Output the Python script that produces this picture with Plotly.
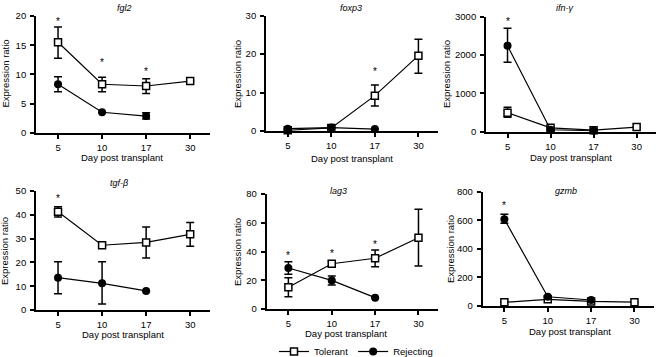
import plotly.graph_objects as go

W, H = 658, 357

days = ["5", "10", "17", "30"]

genes = ["fgl2", "foxp3", "ifn-γ", "tgf-β", "lag3", "gzmb"]

# Tolerant series (mean, upper error, lower error)
tol = {
    "fgl2":  [15.5, 8.3, 8.0, 8.85],
    "foxp3": [0.2, 0.8, 9.2, 19.6],
    "ifn-γ": [496, 100, 40, 120],
    "tgf-β": [41.3, 27.2, 28.4, 31.8],
    "lag3":  [15.1, 31.5, 35.3, 49.6],
    "gzmb":  [24, 45, 30, 25],
}
tol_hi = {
    "fgl2":  [2.6, 1.2, 1.25, 0],
    "foxp3": [0, 0, 2.8, 4.3],
    "ifn-γ": [140, 0, 0, 0],
    "tgf-β": [2.1, 0.8, 6.5, 5.0],
    "lag3":  [6.7, 2.0, 5.7, 19.8],
    "gzmb":  [0, 0, 0, 0],
}
tol_lo = {
    "fgl2":  [2.75, 1.3, 1.3, 0],
    "foxp3": [0, 0, 2.7, 4.6],
    "ifn-γ": [121, 0, 0, 0],
    "tgf-β": [2.2, 0.8, 6.6, 5.0],
    "lag3":  [6.5, 2.0, 5.9, 19.7],
    "gzmb":  [0, 0, 0, 0],
}

# Rejecting series (only days 5, 10, 17)
rej = {
    "fgl2":  [8.3, 3.5, 2.85],
    "foxp3": [0.6, 0.9, 0.5],
    "ifn-γ": [2244, 50, 25],
    "tgf-β": [13.6, 11.2, 8.0],
    "lag3":  [28.5, 19.9, 7.9],
    "gzmb":  [608, 63, 40],
}
rej_hi = {
    "fgl2":  [1.3, 0, 0.55],
    "foxp3": [0, 0, 0],
    "ifn-γ": [453, 0, 0],
    "tgf-β": [6.7, 9.1, 0],
    "lag3":  [4.4, 3.1, 0],
    "gzmb":  [35, 0, 0],
}
rej_lo = {
    "fgl2":  [1.3, 0, 0.5],
    "foxp3": [0, 0, 0],
    "ifn-γ": [434, 0, 0],
    "tgf-β": [6.75, 8.7, 0],
    "lag3":  [4.4, 3.2, 0],
    "gzmb":  [28, 0, 0],
}

y_max = {"fgl2": 20, "foxp3": 30, "ifn-γ": 3000, "tgf-β": 50, "lag3": 80, "gzmb": 800}
y_dtick = {"fgl2": 5, "foxp3": 10, "ifn-γ": 1000, "tgf-β": 10, "lag3": 20, "gzmb": 200}

# significance stars: (day index, height in data units)
stars = {
    "fgl2": [(0, 19.4), (1, 12.3), (2, 10.8)],
    "foxp3": [(2, 15.9)],
    "ifn-γ": [(0, 2940)],
    "tgf-β": [(0, 47.9)],
    "lag3": [(0, 38.7), (1, 40.3), (2, 46.4)],
    "gzmb": [(0, 720)],
}

# panel boxes in pixels: left, right, top, bottom
boxes = {
    "fgl2":  (36, 210, 16, 132.7),
    "foxp3": (266, 438, 15.7, 131),
    "ifn-γ": (486, 656, 16.7, 131.7),
    "tgf-β": (36, 210, 191, 310),
    "lag3":  (266.7, 438, 194, 309),
    "gzmb":  (482.7, 654, 192, 305.7),
}
# panel title positions (px)
title_pos = {
    "fgl2": (124, 8), "foxp3": (351, 7.5), "ifn-γ": (565, 7.5),
    "tgf-β": (119, 183.5), "lag3": (338.5, 190.7), "gzmb": (565.5, 190.7),
}
xtitle_pos = {
    "fgl2": (122, 157.5), "foxp3": (352, 158), "ifn-γ": (571, 157.5),
    "tgf-β": (123, 334.5), "lag3": (346, 333.5), "gzmb": (570, 331.5),
}
ytitle_pos = {
    "fgl2": (4.5, 74), "foxp3": (237, 74), "ifn-γ": (446, 74),
    "tgf-β": (5, 251), "lag3": (237, 252), "gzmb": (450, 249),
}

FONT = "Liberation Sans, Arial, Helvetica, sans-serif"
FS = 9.5

fig = go.Figure()
annotations = []

xidx = list(range(len(days)))

for i, g in enumerate(genes):
    n = i + 1
    xa = "x" if n == 1 else f"x{n}"
    ya = "y" if n == 1 else f"y{n}"
    l, r, t, b = boxes[g]
    fig.add_trace(go.Scatter(
        x=xidx, y=tol[g], xaxis=xa, yaxis=ya, mode="lines+markers",
        name="Tolerant", legendgroup="tol", showlegend=(n == 5),
        line=dict(color="black", width=1.2),
        marker=dict(symbol="square", size=7, color="white", line=dict(color="black", width=1.5)),
        error_y=dict(type="data", array=tol_hi[g], arrayminus=tol_lo[g], symmetric=False,
                     color="black", thickness=1.5, width=4),
        cliponaxis=False,
    ))
    fig.add_trace(go.Scatter(
        x=xidx[:3], y=rej[g], xaxis=xa, yaxis=ya, mode="lines+markers",
        name="Rejecting", legendgroup="rej", showlegend=(n == 5),
        line=dict(color="black", width=1.2),
        marker=dict(symbol="circle", size=8, color="black", line=dict(color="black", width=0)),
        error_y=dict(type="data", array=rej_hi[g], arrayminus=rej_lo[g], symmetric=False,
                     color="black", thickness=1.5, width=4),
        cliponaxis=False,
    ))
    axis_common = dict(showline=True, linecolor="black", linewidth=1.8, ticks="outside",
                       ticklen=4, tickwidth=1.5, tickcolor="black", showgrid=False, zeroline=False,
                       automargin=False,
                       tickfont=dict(family=FONT, size=FS, color="black"))
    fig.update_layout(**{
        ("xaxis" if n == 1 else f"xaxis{n}"): dict(
            domain=[l / W, r / W], anchor=ya, range=[-0.5, 3.45],
            tickvals=xidx, ticktext=days, ticklabelstandoff=1, **axis_common),
        ("yaxis" if n == 1 else f"yaxis{n}"): dict(
            domain=[1 - b / H, 1 - t / H], anchor=xa, range=[0, y_max[g]],
            dtick=y_dtick[g], tick0=0, ticklabelstandoff=2, **axis_common),
    })
    for (k, sy) in stars[g]:
        annotations.append(dict(x=k, y=sy, xref=xa, yref=ya, text="*", showarrow=False,
                                font=dict(family="Liberation Sans", size=10, color="#000000"),
                                xanchor="center", yanchor="middle", yshift=-2))
    tx, ty = title_pos[g]
    annotations.append(dict(x=tx / W, y=1 - ty / H, xref="paper", yref="paper",
                            text=f"<i>{g}</i>", showarrow=False,
                            font=dict(family=FONT, size=9, color="black"),
                            xanchor="center", yanchor="middle"))
    tx, ty = xtitle_pos[g]
    annotations.append(dict(x=tx / W, y=1 - ty / H, xref="paper", yref="paper",
                            text="Day post transplant", showarrow=False,
                            font=dict(family=FONT, size=FS, color="black"),
                            xanchor="center", yanchor="middle"))
    tx, ty = ytitle_pos[g]
    annotations.append(dict(x=tx / W, y=1 - ty / H, xref="paper", yref="paper",
                            text="Expression ratio", showarrow=False, textangle=-90,
                            font=dict(family=FONT, size=FS, color="black"),
                            xanchor="center", yanchor="middle"))

fig.update_layout(
    width=W, height=H, margin=dict(l=0, r=0, t=0, b=0, autoexpand=False),
    paper_bgcolor="white", plot_bgcolor="white",
    annotations=annotations,
    showlegend=True,
    legend=dict(orientation="h", x=274 / W, xanchor="left", y=5.5 / H, yanchor="middle",
                font=dict(family=FONT, size=FS, color="black"),
                bgcolor="rgba(0,0,0,0)", traceorder="normal"),
)

fig.write_html("out.html", config={"displayModeBar": False},
               post_script="document.body.style.margin='0';")
